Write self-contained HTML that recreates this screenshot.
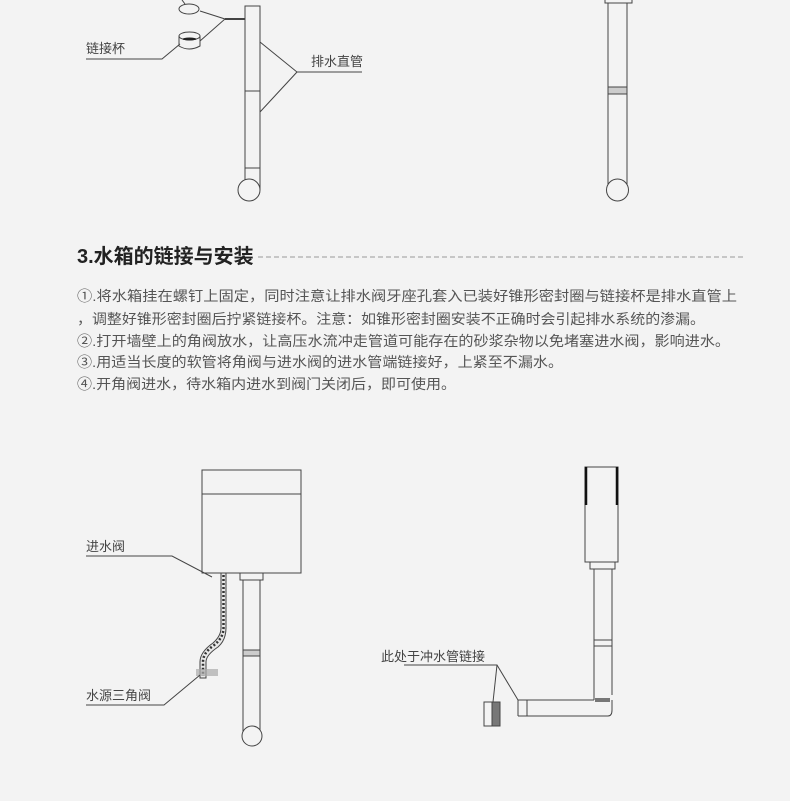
<!DOCTYPE html>
<html><head><meta charset="utf-8"><style>
html,body{margin:0;padding:0;background:#f3f3f3;}
svg{display:block}
text{font-family:"Liberation Sans","Noto Sans CJK SC",sans-serif;}
</style></head><body>
<svg width="790" height="801" viewBox="0 0 790 801" xmlns="http://www.w3.org/2000/svg">
<rect width="790" height="801" fill="#f3f3f3"/>
<g fill="none" stroke="#444" stroke-width="1">
<ellipse cx="189" cy="9" rx="10" ry="5" fill="#f3f3f3"/>
<line x1="182" y1="0" x2="185" y2="4"/>
<path d="M179 36 L179 46 Q189 52 200 46 L200 36" fill="#f3f3f3"/>
<ellipse cx="189.5" cy="36" rx="10.5" ry="4" fill="#f3f3f3"/>
<ellipse cx="189.5" cy="39" rx="7" ry="1.5" fill="#222" stroke="none"/>
<polyline points="200,11 225,19 200,41"/>
<line x1="225" y1="19" x2="245" y2="19" stroke-width="2"/>
<polyline points="86,59 162,59 180,44"/>
<rect x="245" y="6" width="15" height="162" fill="#f3f3f3"/>
<line x1="245" y1="91" x2="260" y2="91"/>
<line x1="245" y1="168" x2="245" y2="186"/>
<line x1="260" y1="168" x2="260" y2="190"/>
<circle cx="249" cy="190" r="11" fill="#f3f3f3"/>
<polyline points="260,42 297,72 260,112"/>
<line x1="297" y1="72" x2="362" y2="72"/>
<rect x="605" y="-2" width="27" height="5" fill="#f3f3f3"/>
<line x1="608" y1="3" x2="608" y2="188"/>
<line x1="627" y1="3" x2="627" y2="188"/>
<rect x="608" y="87" width="19" height="7" fill="#ccc"/>
<circle cx="617.5" cy="190" r="11" fill="#f3f3f3"/>
</g>
<text x="86" y="53" font-size="13" fill="#444">链接杯</text>
<text x="311" y="66" font-size="13" fill="#444">排水直管</text>
<text x="77" y="263" font-size="20" font-weight="bold" fill="#222">3.水箱的链接与安装</text>
<line x1="258" y1="257" x2="743" y2="257" stroke="#999" stroke-dasharray="5,3"/>
<g font-size="14" fill="#555">
<text x="77" y="301" textLength="660" lengthAdjust="spacingAndGlyphs">①.将水箱挂在螺钉上固定，同时注意让排水阀牙座孔套入已装好锥形密封圈与链接杯是排水直管上</text>
<text x="77" y="324" textLength="628" lengthAdjust="spacingAndGlyphs">，调整好锥形密封圈后拧紧链接杯。注意：如锥形密封圈安装不正确时会引起排水系统的渗漏。</text>
<text x="77" y="346" textLength="653" lengthAdjust="spacingAndGlyphs">②.打开墙壁上的角阀放水，让高压水流冲走管道可能存在的砂浆杂物以免堵塞进水阀，影响进水。</text>
<text x="77" y="367" textLength="486" lengthAdjust="spacingAndGlyphs">③.用适当长度的软管将角阀与进水阀的进水管端链接好，上紧至不漏水。</text>
<text x="77" y="389" textLength="379" lengthAdjust="spacingAndGlyphs">④.开角阀进水，待水箱内进水到阀门关闭后，即可使用。</text>
</g>
<g fill="none" stroke="#444" stroke-width="1">
<rect x="202" y="470" width="99" height="103" fill="#f3f3f3"/>
<line x1="202" y1="494" x2="301" y2="494"/>
<rect x="240" y="573" width="23" height="7" fill="#f3f3f3"/>
<line x1="243" y1="580" x2="243" y2="733"/>
<line x1="260" y1="580" x2="260" y2="733"/>
<rect x="243" y="650" width="17" height="6" fill="#ccc"/>
<circle cx="252" cy="736" r="10" fill="#f3f3f3"/>
<path d="M221 573 L221 628 Q221 636 213 643 Q200 652 200 662 L200 678 L206 678 L206 662 Q206 655 218 647 Q226 640 226 628 L226 573 Z" fill="#e8e8e8"/>
<path d="M223.5 575 L223.5 628 Q223.5 638 213 646 Q203 653 203 662 L203 676" stroke-dasharray="2,2" stroke="#333" stroke-width="2.5"/>
<rect x="196" y="669" width="22" height="7" fill="#aaa" stroke="none" opacity="0.7"/>
<polyline points="86,556 172,556 212,577"/>
<polyline points="86,705 164,705 200,675"/>
<rect x="585" y="467" width="33" height="95" fill="#f3f3f3"/>
<line x1="586" y1="467" x2="586" y2="505" stroke-width="2.5" stroke="#111"/>
<line x1="617" y1="467" x2="617" y2="505" stroke-width="2.5" stroke="#111"/>
<rect x="590" y="562" width="25" height="7" fill="#f3f3f3"/>
<line x1="594" y1="569" x2="594" y2="700"/>
<line x1="612" y1="569" x2="612" y2="695"/>
<rect x="594" y="640" width="18" height="6" fill="#f3f3f3"/>
<path d="M518 700 L594 700 M518 716 L608 716 Q612 716 612 710 L612 700" />
<line x1="518" y1="700" x2="518" y2="716"/>
<line x1="527" y1="700" x2="527" y2="716"/>
<rect x="595" y="698" width="15" height="4" fill="#777" stroke="none"/>
<polyline points="404,665 497,665 518,700"/>
<line x1="497" y1="665" x2="493" y2="702"/>
<rect x="484" y="702" width="16" height="24" fill="#f3f3f3"/>
<rect x="492" y="702" width="8" height="24" fill="#777"/>
</g>
<text x="86" y="551" font-size="13" fill="#444">进水阀</text>
<text x="86" y="700" font-size="13" fill="#444">水源三角阀</text>
<text x="381" y="661" font-size="13" fill="#444">此处于冲水管链接</text>
</svg>
</body></html>
